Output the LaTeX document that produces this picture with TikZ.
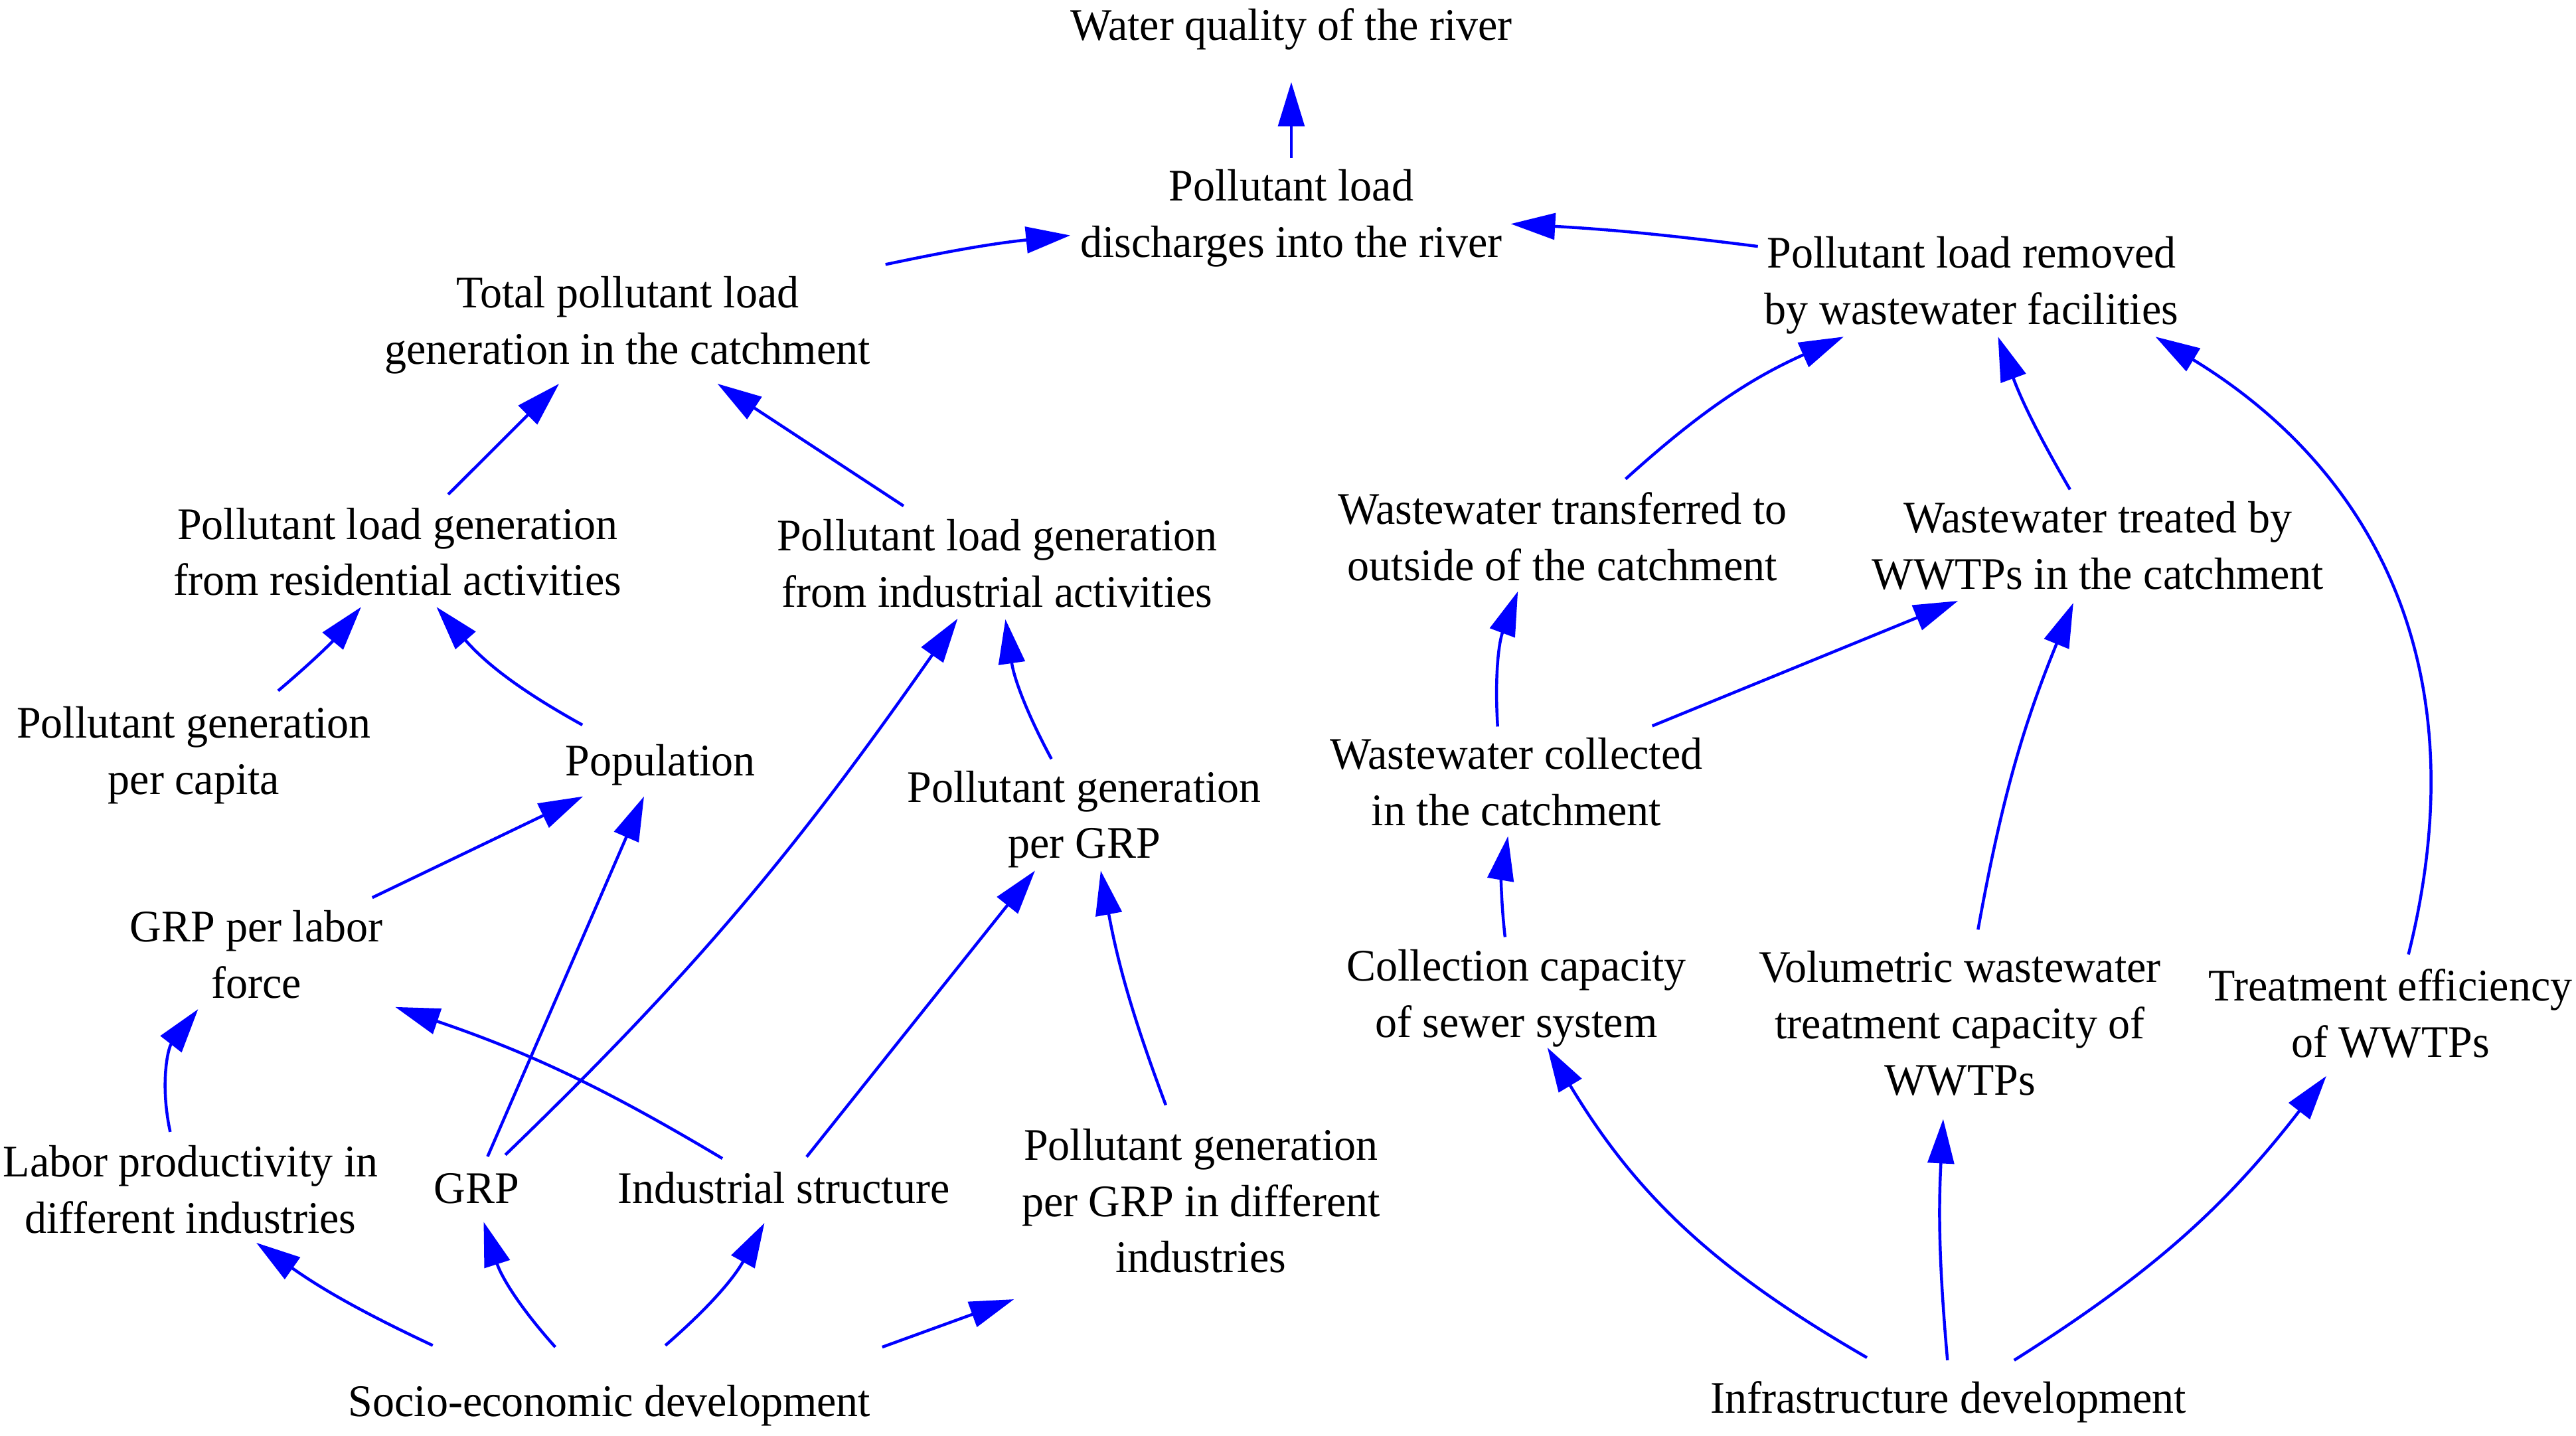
\documentclass[tikz,border=0pt]{standalone}
\usepackage{fontspec}
\setmainfont{Liberation Serif}[FakeStretch=0.97]
\usetikzlibrary{arrows.meta}
\definecolor{linkblue}{RGB}{0,0,255}
\newcommand\fst{\rule[-.3\baselineskip]{0pt}{\dimexpr\baselineskip+5pt\relax}}
\begin{document}
\begin{tikzpicture}[x=1pt,y=1pt,
  lab/.style={align=center, inner sep=0pt, font=\fontsize{27.5}{34.3}\selectfont},
  link/.style={draw=linkblue, line width=1.8pt, -{Triangle[length=27pt,width=16pt]}}]
\useasboundingbox[fill=white] (0,0) rectangle (1568,874);
% nodes
\node[lab] (wq)    at (786,859)  {\fst Water quality of the river};
\node[lab] (pld)   at (786,744)  {\fst Pollutant load\\\strut discharges into the river};
\node[lab] (tpl)   at (382,679)  {\fst Total pollutant load\\\strut generation in the catchment};
\node[lab] (plr)   at (1200,703) {\fst Pollutant load removed\\\strut by wastewater facilities};
\node[lab] (plres) at (242,538)  {\fst Pollutant load generation\\\strut from residential activities};
\node[lab] (plind) at (607,531)  {\fst Pollutant load generation\\\strut from industrial activities};
\node[lab] (wto)   at (951,547)  {\fst Wastewater transferred to\\\strut outside of the catchment};
\node[lab] (wtt)   at (1277,542) {\fst Wastewater treated by\\\strut WWTPs in the catchment};
\node[lab] (pgc)   at (118,417)  {\fst Pollutant generation\\\strut per capita};
\node[lab] (pop)   at (402,411)  {\fst Population};
\node[lab] (pgg)   at (660,378)  {\fst Pollutant generation\\\strut per GRP};
\node[lab] (wc)    at (923,398)  {\fst Wastewater collected\\\strut in the catchment};
\node[lab] (grpl)  at (156,293)  {\fst GRP per labor\\\strut force};
\node[lab] (ccs)   at (923,269)  {\fst Collection capacity\\\strut of sewer system};
\node[lab] (vwt)   at (1193,251) {\fst Volumetric wastewater\\\strut treatment capacity of\\\strut WWTPs};
\node[lab] (tew)   at (1455,257) {\fst Treatment efficiency\\\strut of WWTPs};
\node[lab] (lpi)   at (116,150)  {\fst Labor productivity in\\\strut different industries};
\node[lab] (grp)   at (290,151)  {\fst GRP};
\node[lab] (ist)   at (477,151)  {\fst Industrial structure};
\node[lab] (pgd)   at (731,143)  {\fst Pollutant generation\\\strut per GRP in different\\\strut industries};
\node[lab] (sed)   at (371,21)   {\fst Socio-economic development};
\node[lab] (infd)  at (1186,23)  {\fst Infrastructure development};
% connectors
\draw[link] ([shift={(0,34)}]pld.center) -- ([shift={(0,-35)}]wq.center);
\draw[link] ([shift={(157,34)}]tpl.center) to[bend left=3] ([shift={(-134.5,-13.3)}]pld.center);
\draw[link] ([shift={(-130,21)}]plr.center) to[bend right=2] ([shift={(133.6,-6.3)}]pld.center);
\draw[link] ([shift={(30.8,35)}]plres.center) -- ([shift={(-41.7,-38.6)}]tpl.center);
\draw[link] ([shift={(-57,35)}]plind.center) -- ([shift={(54.7,-38.6)}]tpl.center);
\draw[link] ([shift={(38.5,35.4)}]wto.center) to[bend left=9] ([shift={(-77.8,-34)}]plr.center);
\draw[link] ([shift={(-17,34)}]wtt.center) to[bend left=5] ([shift={(16.2,-34)}]plr.center);
\draw[link] ([shift={(11,36)}]tew.center) .. controls +(45,180) and +(128,-78) .. ([shift={(112,-34)}]plr.center);
\draw[link] ([shift={(51.3,36.5)}]pgc.center) to[bend right=5] ([shift={(-22.2,-33.5)}]plres.center);
\draw[link] ([shift={(-47.5,21.7)}]pop.center) to[bend left=10] ([shift={(23.7,-33.5)}]plres.center);
\draw[link] ([shift={(17.6,20)}]grp.center) to[out=44,in=235] ([shift={(-24.1,-33.6)}]plind.center);
\draw[link] ([shift={(-20,34)}]pgg.center) to[bend left=10] ([shift={(5,-34)}]plind.center);
\draw[link] ([shift={(70.6,34.6)}]grpl.center) -- ([shift={(-47.1,-21.8)}]pop.center);
\draw[link] ([shift={(6.8,19)}]grp.center) -- ([shift={(-10,-21.8)}]pop.center);
\draw[link] ([shift={(-37.3,17.8)}]ist.center) to[bend right=6] ([shift={(84.6,-32)}]grpl.center);
\draw[link] ([shift={(14,18.8)}]ist.center) -- ([shift={(-30,-34)}]pgg.center);
\draw[link] ([shift={(-21.4,58.3)}]pgd.center) to[bend left=5] ([shift={(10,-34)}]pgg.center);
\draw[link] ([shift={(-12.4,35)}]lpi.center) to[bend left=25] ([shift={(-35.4,-33.3)}]grpl.center);
\draw[link] ([shift={(-107.6,34)}]sed.center) to[bend left=5] ([shift={(40,-32.5)}]lpi.center);
\draw[link] ([shift={(-33,33)}]sed.center) to[bend left=12] ([shift={(4.4,-20.8)}]grp.center);
\draw[link] ([shift={(34,34)}]sed.center) to[bend right=10] ([shift={(-11.7,-21.5)}]ist.center);
\draw[link] ([shift={(166,33)}]sed.center) -- ([shift={(-113.8,-59.9)}]pgd.center);
\draw[link] ([shift={(-11.4,33.7)}]wc.center) to[bend left=12] ([shift={(-27.1,-33)}]wto.center);
\draw[link] ([shift={(82.7,34.1)}]wc.center) -- ([shift={(-85.2,-33.8)}]wtt.center);
\draw[link] ([shift={(-6.9,34.6)}]ccs.center) to[bend left=8] ([shift={(-5.1,-33)}]wc.center);
\draw[link] ([shift={(11,57.1)}]vwt.center) to[bend left=6] ([shift={(-15,-35)}]wtt.center);
\draw[link] ([shift={(-49.6,24.6)}]infd.center) to[out=150,in=-59] ([shift={(18.9,-32.7)}]ccs.center);
\draw[link] ([shift={(-0.6,23)}]infd.center) to[bend left=4] ([shift={(-10.2,-58.2)}]vwt.center);
\draw[link] ([shift={(40,23)}]infd.center) to[bend right=10] ([shift={(-39,-38)}]tew.center);
\end{tikzpicture}
\end{document}
